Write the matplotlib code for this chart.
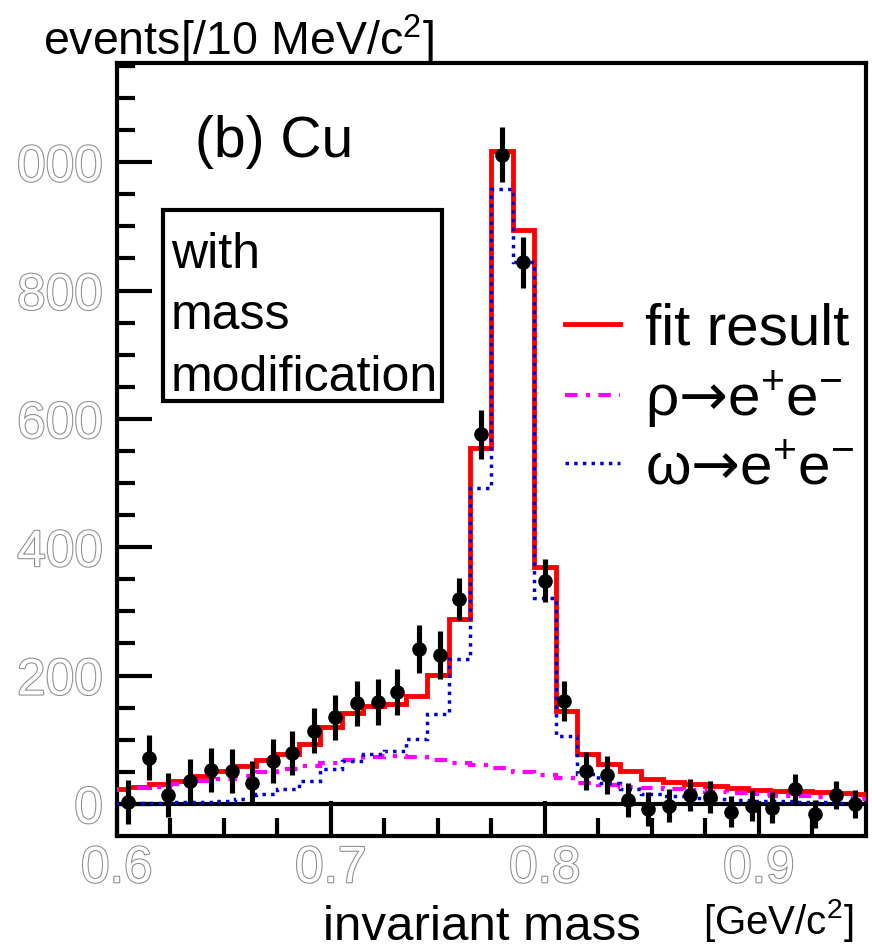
import numpy as np
import matplotlib.pyplot as plt
import matplotlib.patheffects as pe
from matplotlib.patches import Rectangle
from matplotlib.lines import Line2D

plt.rcParams['font.family'] = ['Liberation Sans', 'DejaVu Sans']
plt.rcParams['mathtext.fontset'] = 'custom'
plt.rcParams['mathtext.rm'] = 'Liberation Sans'
plt.rcParams['mathtext.it'] = 'Liberation Sans'
plt.rcParams['mathtext.sf'] = 'DejaVu Sans'
plt.rcParams['mathtext.fallback'] = 'stixsans'

# histogram bins (10 MeV wide)
bin_centers = [0.60, 0.61, 0.62, 0.63, 0.64, 0.65, 0.66, 0.67, 0.68, 0.69,
               0.70, 0.71, 0.72, 0.73, 0.74, 0.75, 0.76, 0.77, 0.78, 0.79,
               0.80, 0.81, 0.82, 0.83, 0.84, 0.85, 0.86, 0.87, 0.88, 0.89,
               0.90, 0.91, 0.92, 0.93, 0.94, 0.95]
fit_result = [23, 27, 31, 36, 44, 51, 59, 68, 78, 93,
              119, 141, 152, 155, 168, 201, 288, 554, 1018, 895,
              369, 145, 78, 62, 51, 39, 34, 31, 28, 25,
              22, 20, 20, 19, 17, 16]
rho_ee = [21, 24, 27, 31, 35, 39, 44, 49, 54, 59,
          64, 69, 73, 75, 73, 69, 64, 60, 56, 50,
          45, 40, 32, 29, 27, 25, 23, 21, 19, 17,
          15, 13, 12, 10, 9, 8]
omega_ee = [2, 2, 2, 3, 3, 4, 7, 15, 23, 36,
            54, 67, 78, 82, 101, 140, 226, 492, 959, 845,
            321, 106, 46, 33, 23, 16, 12, 9, 7, 6,
            5, 4, 3, 3, 2, 2]

# measured points
data_x = [0.605, 0.615, 0.624, 0.634, 0.644, 0.654, 0.663, 0.673, 0.682, 0.692,
          0.702, 0.712, 0.722, 0.731, 0.741, 0.751, 0.760, 0.770, 0.780, 0.790,
          0.800, 0.809, 0.819, 0.829, 0.839, 0.848, 0.858, 0.868, 0.877, 0.887,
          0.897, 0.906, 0.917, 0.926, 0.936, 0.945]
data_y = [3, 72, 14, 36, 53, 51, 33, 67, 79, 114,
          135, 157, 159, 174, 241, 232, 319, 576, 1012, 844,
          348, 160, 51, 45, 6, -8, -3, 14, 11, -12,
          -3, -6, 23, -16, 14, 0]
data_err = [34, 35, 34, 34, 34, 34, 34, 34, 34, 35,
            35, 35, 36, 36, 37, 37, 33, 38, 43, 40,
            33, 31, 30, 29, 27, 26, 26, 25, 25, 24,
            24, 24, 23, 22, 22, 22]

xticks = [0.6, 0.7, 0.8, 0.9]
xtick_labels = ['0.6', '0.7', '0.8', '0.9']
yticks = [0, 200, 400, 600, 800, 1000]
ytick_labels = ['0', '200', '400', '600', '800', '000']

half = 0.005
edges = [c - half for c in bin_centers] + [bin_centers[-1] + half]

rho_style = (0, (3, 2, 1, 2))
omega_style = (0, (1, 1.5))

fig = plt.figure(figsize=(8.72, 9.51), dpi=100)
ax = fig.add_axes([0.134, 0.121, 0.859, 0.813])

ax.axhline(0, color='black', lw=3, zorder=2.5)
ax.stairs(fit_result, edges, baseline=None, color='#ff0000', lw=3.5, zorder=3)
ax.stairs(rho_ee, edges, baseline=None, color='#ff00ff', lw=3,
          linestyle=rho_style, zorder=3.2)
ax.stairs(omega_ee, edges, baseline=None, color='#0000d8', lw=2.5,
          linestyle=omega_style, zorder=3.4)
ax.errorbar(data_x, data_y, yerr=data_err, fmt='o', color='black', ms=9.5,
            elinewidth=3.7, capsize=0, zorder=5)

ax.set_xlim(0.6, 0.95)
ax.set_ylim(-50, 1155)
ax.set_xticks(xticks, xtick_labels)
ax.set_xticks(np.arange(0.6, 0.95, 0.025), minor=True)
ax.set_yticks(yticks, ytick_labels)
ax.set_yticks(np.arange(0, 1151, 50), minor=True)
ax.tick_params(which='both', direction='in', width=3, color='black',
               top=False, right=False)
ax.tick_params(which='major', length=25)
ax.tick_params(which='minor', length=13)
ax.tick_params(axis='both', labelsize=37, labelcolor='white')
ax.tick_params(axis='y', pad=10)
ax.tick_params(axis='x', pad=6)
for lbl in ax.get_xticklabels() + ax.get_yticklabels():
    lbl.set_path_effects([pe.withStroke(linewidth=1.5, foreground='#8c8c8c')])
for s in ax.spines.values():
    s.set_linewidth(3)

ax.text(0.104, 0.878, '(b) Cu', transform=ax.transAxes, fontsize=41,
        va='baseline', ha='left')
ax.add_patch(Rectangle((0.061, 0.563), 0.373, 0.247, transform=ax.transAxes,
                       fill=False, lw=3, color='black', zorder=4))
ax.text(0.072, 0.576, 'with\nmass\nmodification', transform=ax.transAxes,
        fontsize=36, va='baseline', ha='left', linespacing=1.42)

handles = [Line2D([], [], color='#ff0000', lw=3.5),
           Line2D([], [], color='#ff00ff', lw=3, linestyle=rho_style),
           Line2D([], [], color='#0000d8', lw=2.5, linestyle=omega_style)]
labels = ['fit result', 'ρ$\\mathsf{→}$e$^{+}$e$^{-}$',
          'ω$\\mathsf{→}$e$^{+}$e$^{-}$']
ax.legend(handles, labels, loc='upper left', bbox_to_anchor=(0.598, 0.69),
          frameon=False, fontsize=42, handlelength=0.95, handletextpad=0.43,
          labelspacing=0.2, borderpad=0, borderaxespad=0)

fig.text(43 / 872, 1 - 55 / 951, 'events[/10 MeV/c$^{2}$]', fontsize=33.5,
         va='baseline', ha='left')
fig.text(323 / 872, 1 - 940 / 951, 'invariant mass', fontsize=35.5,
         va='baseline', ha='left')
fig.text(703 / 872, 1 - 934 / 951, '[GeV/c$^{2}$]', fontsize=29,
         va='baseline', ha='left')

fig.savefig('out.png', dpi=100)
